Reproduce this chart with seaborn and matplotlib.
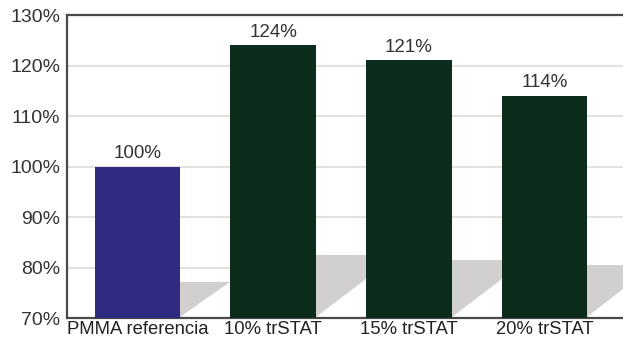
import numpy as np
import pandas as pd
import matplotlib
matplotlib.use("Agg")
import matplotlib.pyplot as plt
import seaborn as sns
from matplotlib.patches import Polygon

# data
categories = ["PMMA referencia", "10% trSTAT", "15% trSTAT", "20% trSTAT"]
values = [100, 124, 121, 114]
bar_colors = ["#302b80", "#0c2c1c", "#0c2c1c", "#0c2c1c"]

sns.set_style("white")
plt.rcParams["font.family"] = ["Liberation Sans", "DejaVu Sans"]

fig = plt.figure(figsize=(6.23, 3.41), dpi=100)
ax = fig.add_axes([0.1075, 0.067, 0.893, 0.889])

W = 0.63
XMAX = 3.58

df = pd.DataFrame({"cat": categories, "val": values})
sns.barplot(data=df, x="cat", y="val", hue="cat", palette=bar_colors,
            width=W, legend=False, ax=ax, zorder=3, saturation=1,
            linewidth=0)

# grey "floor" shadows to the right of each bar (decoration only)
shadow_top = [77.2, 82.5, 81.5, 80.5]
slope = 20.3
for i in range(len(categories)):
    xr = i + W / 2
    L = min(1 - W, XMAX - xr)
    y_right = min(70.3 + slope * L, shadow_top[i])
    pts = [(xr, 70.3), (xr, shadow_top[i]), (xr + L, shadow_top[i]),
           (xr + L, y_right)]
    ax.add_patch(Polygon(pts, closed=True, facecolor="#d2cfcf",
                         edgecolor="none", zorder=2))

for i, v in enumerate(values):
    ax.text(i, v + 0.9, f"{v}%", ha="center", va="bottom", fontsize=13.5,
            color="#333333", zorder=4)

ax.set_ylim(70, 130)
ax.set_xlim(-0.52, XMAX)
ticks = list(range(70, 131, 10))
ax.set_yticks(ticks)
ax.set_yticklabels([f"{t}%" for t in ticks], fontsize=14, color="#333333")
ax.set_xticks(range(len(categories)))
ax.set_xticklabels(categories, fontsize=13.3, color="#222222")
ax.set_xlabel("")
ax.set_ylabel("")
ax.tick_params(axis="both", length=0, pad=2)
ax.tick_params(axis="y", pad=5)

ax.yaxis.grid(True, color="#e2e2e2", linewidth=1.5, zorder=1)
ax.set_axisbelow(True)
for s in ["left", "bottom", "top"]:
    ax.spines[s].set_color("#4a4a4a")
    ax.spines[s].set_linewidth(1.6)
ax.spines["right"].set_visible(False)

fig.savefig("out.png", dpi=100)
